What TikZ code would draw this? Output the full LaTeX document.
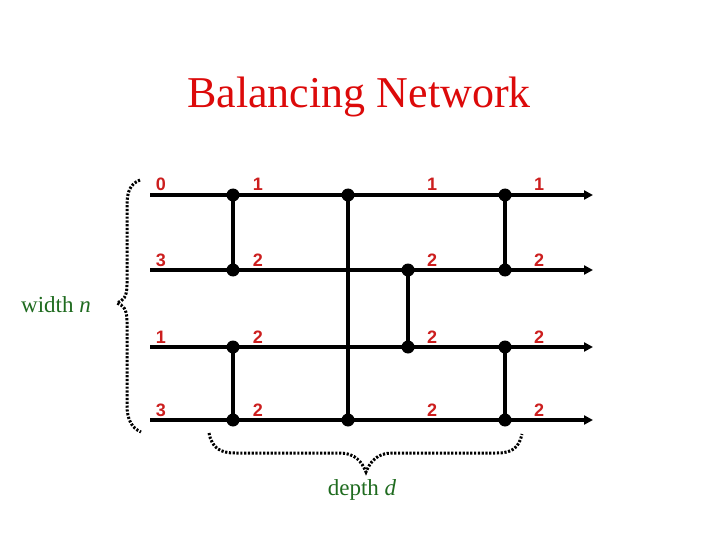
\documentclass[tikz,border=0pt]{standalone}
\usepackage{fontspec}
\setmainfont{Liberation Serif}
\newfontfamily\numfont{Liberation Sans}
\usetikzlibrary{arrows.meta,positioning,calc}
\definecolor{titlered}{HTML}{DC0A0A}
\definecolor{numred}{HTML}{CC1E1E}
\definecolor{notegreen}{HTML}{1F6B1F}

\begin{document}
\begin{tikzpicture}[x=1pt,y=-1pt,
    wire/.style={line width=3.5pt,-{Triangle[length=9pt,width=9pt]}},
    balancer/.style={line width=3.5pt},
    dot/.style={circle,fill=black,inner sep=0pt,minimum size=13pt},
    val/.style={font=\numfont\bfseries\fontsize{18}{18}\selectfont,text=numred,anchor=base},
    brace/.style={line width=3pt,dash pattern=on 2.2pt off 1.6pt},
    note/.style={font=\fontsize{23}{23}\selectfont,text=notegreen,anchor=base}]
    \useasboundingbox (0,0) rectangle (720,540);

    % Title
    \node[font=\fontsize{44}{44}\selectfont,text=titlered,anchor=base] (title) at (359,108) {Balancing Network};

    % Wires
    \foreach \i/\y in {1/195,2/270,3/347,4/420} {
        \coordinate (in\i) at (150,\y);
        \coordinate (out\i) at (593,\y);
        \draw[wire] (in\i) -- (out\i);
    }

    % Balancers
    \foreach \name/\x/\ya/\yb in {bA/233/195/270, bB/233/347/420, bC/348/195/420, bD/408/270/347, bE/505/195/270, bF/505/347/420} {
        \node[dot] (\name top) at (\x,\ya) {};
        \node[dot] (\name bot) at (\x,\yb) {};
        \draw[balancer] (\name top.center) -- (\name bot.center);
    }

    % Token counts
    \foreach \x/\a/\b/\c/\d [count=\k] in {161/0/3/1/3, 258/1/2/2/2, 432/1/2/2/2, 539/1/2/2/2} {
        \node[val] (vA\k) at (\x,191) {\a};
        \node[val] (vB\k) at (\x,266) {\b};
        \node[val] (vC\k) at (\x,343) {\c};
        \node[val] (vD\k) at (\x,416) {\d};
    }

    % Left brace
    \draw[brace] (140,180) .. controls (130,184) and (127,192) .. (127,205) -- (127,285)
        .. controls (127,297) and (123,301) .. (117,303)
        .. controls (123,305) and (127,309) .. (127,321) -- (127,405)
        .. controls (127,420) and (132,428) .. (141,432);
    \node[note] (width) at (56,312) {width \textit{n}};

    % Bottom brace
    \draw[brace] (209,433) .. controls (212,448) and (220,453) .. (235,453) -- (340,453)
        .. controls (355,453) and (362,462) .. (366,472)
        .. controls (370,462) and (377,453) .. (392,453) -- (497,453)
        .. controls (512,453) and (519,448) .. (522,434);
    \node[note] (depth) at (362,495) {depth \textit{d}};

\end{tikzpicture}
\end{document}
